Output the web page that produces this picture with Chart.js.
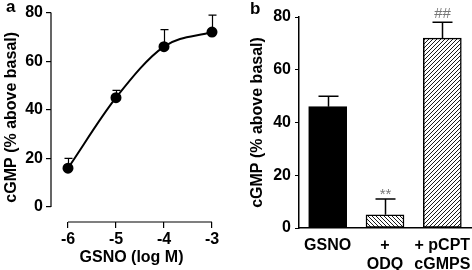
<!DOCTYPE html>
<html>
<head>
<meta charset="utf-8">
<script src="https://cdn.jsdelivr.net/npm/chart.js@4.4.1/dist/chart.umd.min.js"></script>
<style>
  html, body { margin: 0; padding: 0; background: #fff; }
  #wrap { position: relative; width: 472px; height: 270px; overflow: hidden; }
  canvas { position: absolute; top: 0; }
  .panel-tag { position: absolute; font: bold 17px "Liberation Sans", Arial, sans-serif; color: #000; }
</style>
</head>
<body>
<div id="wrap">
  <canvas id="chart-a" width="236" height="270" style="left:0"></canvas>
  <canvas id="chart-b" width="236" height="270" style="left:236px"></canvas>
  <div class="panel-tag" style="left:6px;top:-3px">a</div>
  <div class="panel-tag" style="left:250px;top:-1px">b</div>
</div>
<script>
// panel a: concentration-response
const gsnoLogM = [-6, -5, -4, -3];
const curveMean = [16, 45, 66, 72];
const curveErr = [4, 3, 7, 7];
const yTicksA = [0, 20, 40, 60, 80];

// panel b: bars
const barLabels = [["GSNO"], ["+", "ODQ"], ["+ pCPT", "cGMPS"]];
const barMean = [46, 5, 72];
const barErr = [4, 6, 6];
const barMarks = ["", "**", "##"];

const FONT = '"Liberation Sans", Arial, sans-serif';

function hatch(forward) {
  const s = 4;
  const c = document.createElement("canvas");
  c.width = s; c.height = s;
  const g = c.getContext("2d");
  g.fillStyle = "#fff";
  g.fillRect(0, 0, s, s);
  g.strokeStyle = "#000";
  g.lineWidth = 0.9;
  g.beginPath();
  if (forward) {
    g.moveTo(0, s); g.lineTo(s, 0);
    g.moveTo(-1, 1); g.lineTo(1, -1);
    g.moveTo(s - 1, s + 1); g.lineTo(s + 1, s - 1);
  } else {
    g.moveTo(0, 0); g.lineTo(s, s);
    g.moveTo(s - 1, -1); g.lineTo(s + 1, 1);
    g.moveTo(-1, s - 1); g.lineTo(1, s + 1);
  }
  g.stroke();
  return g.createPattern(c, "repeat");
}

// up-only error bars with a cap, drawn from the dataset's own elements
const errorBars = {
  id: "errorBars",
  afterDatasetsDraw(chart, args, opts) {
    const { ctx } = chart;
    const y = chart.scales.y;
    const meta = chart.getDatasetMeta(0);
    const values = opts.values;
    ctx.save();
    ctx.strokeStyle = "#000";
    ctx.lineWidth = opts.lineWidth;
    meta.data.forEach((el, i) => {
      const top = y.getPixelForValue(values[i] + opts.errors[i]);
      const x = Math.round(el.x) + 0.5;
      ctx.beginPath();
      ctx.moveTo(x, el.y);
      ctx.lineTo(x, top);
      ctx.moveTo(x - opts.cap, top);
      ctx.lineTo(x + opts.cap, top);
      ctx.stroke();
      const mark = opts.marks && opts.marks[i];
      if (mark) {
        ctx.fillStyle = "#777";
        ctx.font = "15px " + FONT;
        ctx.textAlign = "center";
        ctx.textBaseline = "alphabetic";
        const m = ctx.measureText(mark);
        ctx.fillText(mark, x, top - 4 - m.actualBoundingBoxDescent);
      }
    });
    ctx.restore();
  },
};

// panel a has detached axes: lines only span the tick range
const splitAxes = {
  id: "splitAxes",
  afterDraw(chart) {
    const { ctx, chartArea } = chart;
    const x = chart.scales.x, y = chart.scales.y;
    ctx.save();
    ctx.strokeStyle = "#000";
    ctx.lineWidth = 1.2;
    ctx.beginPath();
    ctx.moveTo(chartArea.left, y.getPixelForValue(yTicksA[0]));
    ctx.lineTo(chartArea.left, y.getPixelForValue(yTicksA[yTicksA.length - 1]));
    ctx.moveTo(x.getPixelForValue(gsnoLogM[0]), chartArea.bottom);
    ctx.lineTo(x.getPixelForValue(gsnoLogM[gsnoLogM.length - 1]), chartArea.bottom);
    ctx.stroke();
    ctx.restore();
  },
};

const tickFont = { family: FONT, size: 16, weight: "bold" };
const titleFont = { family: FONT, size: 16, weight: "bold" };

new Chart(document.getElementById("chart-a"), {
  type: "scatter",
  data: {
    datasets: [{
      data: gsnoLogM.map((v, i) => ({ x: v, y: curveMean[i] })),
      showLine: true,
      cubicInterpolationMode: "monotone",
      borderColor: "#000",
      borderWidth: 2,
      pointRadius: 4.5,
      pointBackgroundColor: "#000",
      pointBorderColor: "#000",
      clip: false,
    }],
  },
  options: {
    responsive: false,
    animation: false,
    devicePixelRatio: 1,
    layout: { padding: { top: 12, right: 24, left: 0, bottom: 0 } },
    plugins: {
      legend: { display: false },
      tooltip: { enabled: false },
      errorBars: { values: curveMean, errors: curveErr, cap: 4, lineWidth: 1.2 },
    },
    scales: {
      x: {
        type: "linear",
        min: -6.354,
        max: -3,
        afterBuildTicks: (s) => { s.ticks = gsnoLogM.map((v) => ({ value: v })); },
        afterFit: (s) => { s.height = 48; },
        ticks: { color: "#000", font: tickFont, padding: 2, maxRotation: 0, callback: (v) => String(v) },
        grid: { drawOnChartArea: false, drawTicks: true, tickLength: 6, color: "#000", lineWidth: 1.2 },
        border: { display: false },
        title: { display: true, text: "GSNO (log M)", color: "#000", font: titleFont, padding: { top: 0, bottom: 3 } },
      },
      y: {
        min: -6.15,
        max: 80,
        afterBuildTicks: (s) => { s.ticks = yTicksA.map((v) => ({ value: v })); },
        afterFit: (s) => { s.width = 51; },
        ticks: { color: "#000", font: tickFont, padding: 3 },
        grid: { drawOnChartArea: false, drawTicks: true, tickLength: 5, color: "#000", lineWidth: 1.2 },
        border: { display: false },
        title: { display: true, text: "cGMP (% above basal)", color: "#000", font: titleFont, padding: { top: 2, bottom: 0 } },
      },
    },
  },
  plugins: [errorBars, splitAxes],
});

new Chart(document.getElementById("chart-b"), {
  type: "bar",
  data: {
    labels: barLabels,
    datasets: [{
      data: barMean,
      backgroundColor: ["#000", hatch(false), hatch(true)],
      borderColor: "#000",
      borderWidth: 1.5,
      borderSkipped: false,
      barThickness: 38,
    }],
  },
  options: {
    responsive: false,
    animation: false,
    devicePixelRatio: 1,
    layout: { padding: { top: 17, right: 1, left: 0, bottom: 0 } },
    plugins: {
      legend: { display: false },
      tooltip: { enabled: false },
      errorBars: { values: barMean, errors: barErr, cap: 10, lineWidth: 1.5, marks: barMarks },
    },
    scales: {
      x: {
        afterFit: (s) => { s.height = 42; },
        ticks: { color: "#000", font: { family: FONT, size: 16, weight: "bold", lineHeight: 1.2 }, padding: 0, maxRotation: 0, minRotation: 0, autoSkip: false },
        grid: { display: false },
        border: { display: true, color: "#000", width: 1.5 },
      },
      y: {
        min: 0,
        max: 80,
        afterFit: (s) => { s.width = 63; },
        ticks: { stepSize: 20, color: "#000", font: tickFont, padding: 4 },
        grid: { drawOnChartArea: false, drawTicks: true, tickLength: 4, color: "#000", lineWidth: 1 },
        border: { display: true, color: "#000", width: 1.5 },
        title: { display: true, text: "cGMP (% above basal)", color: "#000", font: titleFont, padding: { top: 12, bottom: 0 } },
      },
    },
  },
  plugins: [errorBars],
});
</script>
</body>
</html>
